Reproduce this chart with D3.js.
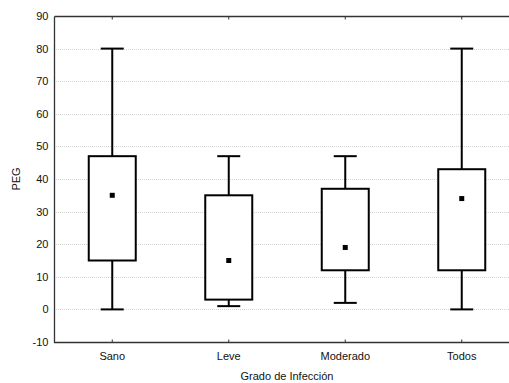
<!DOCTYPE html>
<html lang="es">
<head>
  <meta charset="UTF-8">
  <title>PEG por grado de infección</title>
  <script src="https://d3js.org/d3.v7.min.js"></script>
  <style>
    body { margin: 0; background: #fff; }
    svg { display: block; font-family: "Liberation Sans", Arial, sans-serif; }
    .grid line { stroke: #d4d4d4; stroke-width: 1px; stroke-dasharray: 1,1; }
    .box { fill: #fff; stroke: #000; stroke-width: 2px; }
    .whisker { stroke: #000; stroke-width: 2px; }
  </style>
</head>
<body>
  <svg width="509" height="383"></svg>
  <script>
    // datos
    const categorias = ['Sano', 'Leve', 'Moderado', 'Todos'];
    const minimos = [0, 1, 2, 0];
    const maximos = [80, 47, 47, 80];
    const cajaInf = [15, 3, 12, 12];
    const cajaSup = [47, 35, 37, 43];
    const centros = [35, 15, 19, 34];
    const yTicks = [-10, 0, 10, 20, 30, 40, 50, 60, 70, 80, 90];

    const svg = d3.select('svg');
    const mLeft = 54, mRight = 520, mTop = 16, mBottom = 342;
    const fuente = '"Liberation Sans", Arial, sans-serif';

    const x = d3.scaleBand().domain(categorias).range([mLeft, mRight]);
    const y = d3.scaleLinear().domain([-10, 90]).range([mBottom, mTop]);

    const datos = categorias.map((c, i) => ({
      cat: c, min: minimos[i], max: maximos[i],
      q1: cajaInf[i], q3: cajaSup[i], mid: centros[i]
    }));

    // lineas de rejilla
    svg.append('g').attr('class', 'grid')
      .selectAll('line')
      .data(yTicks.filter(t => t > -10 && t < 90))
      .join('line')
      .attr('x1', mLeft).attr('x2', 509)
      .attr('y1', d => Math.round(y(d)) + 0.5)
      .attr('y2', d => Math.round(y(d)) + 0.5);

    // ejes
    const axisColor = '#333';
    const yAxis = svg.append('g')
      .attr('transform', `translate(${mLeft + 0.5},0)`)
      .call(d3.axisLeft(y).tickValues(yTicks).tickFormat(d => String(d)).tickSize(0).tickPadding(6));
    yAxis.select('.domain').remove();
    yAxis.selectAll('text').attr('font-size', 11).attr('fill', '#111').attr('font-family', fuente);

    const xAxis = svg.append('g')
      .attr('transform', `translate(0,${mBottom + 0.5})`)
      .call(d3.axisBottom(x).tickSize(-3).tickPadding(10));
    xAxis.select('.domain').remove();
    xAxis.selectAll('line').attr('stroke', axisColor);
    xAxis.selectAll('text').attr('font-size', 11).attr('fill', '#111').attr('font-family', fuente);

    const topAxis = svg.append('g')
      .attr('transform', `translate(0,${mTop + 0.5})`)
      .call(d3.axisTop(x).tickSize(-3).tickFormat(''));
    topAxis.select('.domain').remove();
    topAxis.selectAll('line').attr('stroke', axisColor);

    svg.append('path')
      .attr('d', `M${mLeft + 0.5},${mTop + 0.5}V${mBottom + 0.5}H509M${mLeft + 0.5},${mTop + 0.5}H509`)
      .attr('fill', 'none').attr('stroke', axisColor).attr('stroke-width', 1.3);

    // cajas
    const bw = 47, cap = 23;
    const g = svg.append('g').selectAll('g').data(datos).join('g')
      .attr('transform', d => `translate(${x(d.cat) + x.bandwidth() / 2},0)`);

    g.append('line').attr('class', 'whisker')
      .attr('x1', 0).attr('x2', 0)
      .attr('y1', d => y(d.max)).attr('y2', d => y(d.min));
    g.append('line').attr('class', 'whisker')
      .attr('x1', -cap / 2).attr('x2', cap / 2)
      .attr('y1', d => y(d.max)).attr('y2', d => y(d.max));
    g.append('line').attr('class', 'whisker')
      .attr('x1', -cap / 2).attr('x2', cap / 2)
      .attr('y1', d => y(d.min)).attr('y2', d => y(d.min));
    g.append('rect').attr('class', 'box')
      .attr('x', -bw / 2).attr('width', bw)
      .attr('y', d => y(d.q3)).attr('height', d => y(d.q1) - y(d.q3));
    g.append('rect')
      .attr('x', -2.5).attr('width', 5)
      .attr('y', d => y(d.mid) - 2.5).attr('height', 5)
      .attr('fill', '#000');

    // titulos
    svg.append('text')
      .attr('transform', `translate(20,${(mTop + mBottom) / 2}) rotate(-90)`)
      .attr('text-anchor', 'middle').attr('font-size', 11).attr('fill', '#111')
      .text('PEG');
    svg.append('text')
      .attr('x', 287).attr('y', 380)
      .attr('text-anchor', 'middle').attr('font-size', 11).attr('fill', '#111')
      .text('Grado de Infección');
  </script>
</body>
</html>
